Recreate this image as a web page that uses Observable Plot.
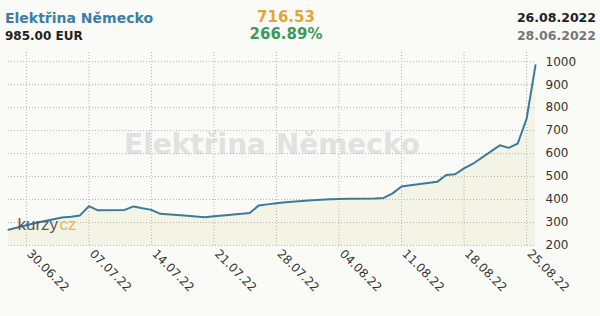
<!DOCTYPE html>
<html>
<head>
<meta charset="utf-8">
<script src="https://cdn.jsdelivr.net/npm/d3@7"></script>
<script src="https://cdn.jsdelivr.net/npm/@observablehq/plot@0.6"></script>
<style>
  html, body { margin: 0; padding: 0; background: #fafbf6; }
  body { width: 600px; height: 316px; overflow: hidden; font-family: "DejaVu Sans", Verdana, sans-serif; }
  #header { position: relative; height: 50px; }
  #header div { position: absolute; white-space: nowrap; font-weight: bold; line-height: 1; }
  #chart svg { display: block; }
</style>
</head>
<body>
<div id="header"></div>
<div id="chart"></div>
<script>
const title = "Elektřina Německo";
const lastValueText = "985.00 EUR";
const changeText = "716.53";
const changePctText = "266.89%";
const endDateText = "26.08.2022";
const startDateText = "28.06.2022";

const dates = [
  "2022-06-28","2022-06-29","2022-06-30","2022-07-01",
  "2022-07-04","2022-07-05","2022-07-06","2022-07-07","2022-07-08",
  "2022-07-11","2022-07-12","2022-07-13","2022-07-14","2022-07-15",
  "2022-07-18","2022-07-19","2022-07-20","2022-07-21","2022-07-22",
  "2022-07-25","2022-07-26","2022-07-27","2022-07-28","2022-07-29",
  "2022-08-01","2022-08-02","2022-08-03","2022-08-04","2022-08-05",
  "2022-08-08","2022-08-09","2022-08-10","2022-08-11","2022-08-12",
  "2022-08-15","2022-08-16","2022-08-17","2022-08-18","2022-08-19",
  "2022-08-22","2022-08-23","2022-08-24","2022-08-25","2022-08-26"
];
const values = [
  268.47, 278, 288, 298,
  322, 325, 331, 371, 353,
  355, 370, 362, 355, 338,
  330, 326, 323, 327, 331,
  341, 374, 379, 384, 388,
  397, 399, 401, 402, 403,
  405, 407, 427, 457, 462,
  477, 507, 510, 536, 556,
  636, 625, 643, 751, 985
];
const yTicks = [200, 300, 400, 500, 600, 700, 800, 900, 1000];
const xTickDates = ["2022-06-30","2022-07-07","2022-07-14","2022-07-21","2022-07-28","2022-08-04","2022-08-11","2022-08-18","2022-08-25"];
const xTickLabels = ["30.06.22","07.07.22","14.07.22","21.07.22","28.07.22","04.08.22","11.08.22","18.08.22","25.08.22"];

const data = dates.map((d, i) => ({date: new Date(d + "T00:00:00Z"), value: values[i]}));
const xTicks = xTickDates.map((d, i) => ({date: new Date(d + "T00:00:00Z"), label: xTickLabels[i]}));

// header
const header = document.getElementById("header");
function addText(text, style) {
  const el = document.createElement("div");
  el.textContent = text;
  Object.assign(el.style, style);
  header.appendChild(el);
}
addText(title, {left: "5px", top: "11px", fontSize: "14px", color: "#3c7ea6"});
addText(lastValueText, {left: "5px", top: "30px", fontSize: "12px", color: "#222"});
addText(changeText, {left: "286px", top: "10px", fontSize: "15px", color: "#e2a53a", transform: "translateX(-50%)"});
addText(changePctText, {left: "286px", top: "27px", fontSize: "15px", color: "#3a9a5c", transform: "translateX(-50%)"});
addText(endDateText, {right: "4px", top: "12px", fontSize: "12.5px", color: "#222"});
addText(startDateText, {right: "4px", top: "30px", fontSize: "12.5px", color: "#777"});

const gridStyle = {stroke: "#b4b4b4", strokeWidth: 1, strokeDasharray: "1,2"};
const font = "DejaVu Sans, Verdana, sans-serif";
const logoFont = "Liberation Sans, Arial, sans-serif";

const chart = Plot.plot({
  width: 600,
  height: 266,
  marginLeft: 8,
  marginRight: 65,
  marginTop: 2,
  marginBottom: 71,
  style: {background: "transparent", fontFamily: font},
  x: {type: "utc", domain: [data[0].date, data[data.length - 1].date], axis: null},
  y: {domain: [200, 1040], axis: null},
  marks: [
    Plot.areaY(data, {x: "date", y1: () => yTicks[0], y2: "value", fill: "#f3f3e6"}),
    Plot.text([title], {frameAnchor: "middle", dy: -4, fontSize: 28, fontWeight: "bold", fill: "#e1e1e1", fontFamily: font}),
    Plot.ruleY(yTicks, gridStyle),
    Plot.ruleX(xTicks, {x: "date", ...gridStyle}),
    Plot.line(data, {x: "date", y: "value", stroke: "#3b7a9c", strokeWidth: 2}),
    Plot.text(yTicks, {y: d => d, text: d => String(d), frameAnchor: "right", textAnchor: "start", dx: 10, fontSize: 12, fill: "#333", fontFamily: font}),
    Plot.text(xTicks, {x: "date", text: "label", frameAnchor: "bottom", rotate: 45, textAnchor: "start", dy: 9, fontSize: 12, fill: "#333", fontFamily: font}),
    Plot.text(["kurzy"], {frameAnchor: "bottom-left", textAnchor: "start", dx: 9, dy: -16, fontSize: 17, fill: "#5a5a5a", fontFamily: logoFont}),
    Plot.text(["cz"], {frameAnchor: "bottom-left", textAnchor: "start", dx: 51, dy: -16, fontSize: 17, fill: "#eeb54c", fontFamily: logoFont})
  ]
});
document.getElementById("chart").appendChild(chart);
</script>
</body>
</html>
